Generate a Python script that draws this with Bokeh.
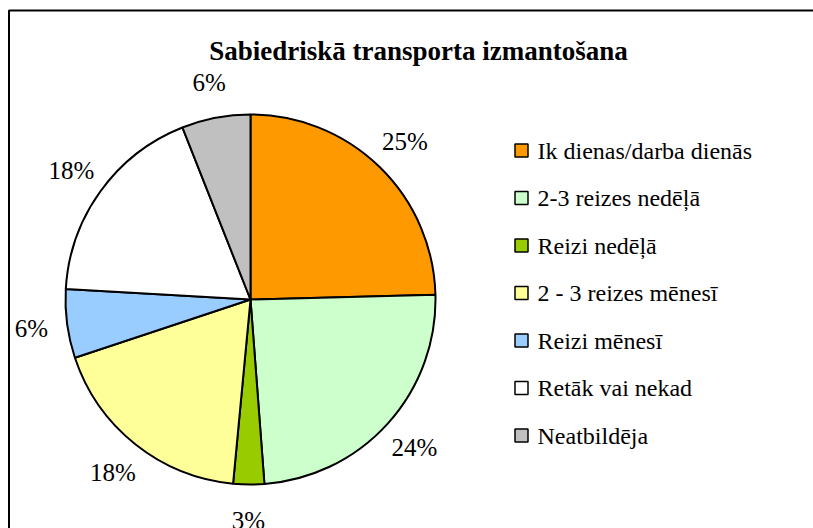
import math
from bokeh.plotting import figure
from bokeh.models import ColumnDataSource, Range1d
from bokeh.core.properties import value
from bokeh.embed import file_html
from bokeh.resources import INLINE

title = "Sabiedriskā transporta izmantošana"
categories = ["Ik dienas/darba dienās", "2-3 reizes nedēļā", "Reizi nedēļā",
              "2 - 3 reizes mēnesī", "Reizi mēnesī", "Retāk vai nekad", "Neatbildēja"]
shares = [24.6, 24.2, 2.7, 18.4, 6.0, 18.1, 6.0]
colors = ["#FF9900", "#CCFFCC", "#99CC00", "#FFFF99", "#99CCFF", "#FFFFFF", "#C0C0C0"]

W, H = 813, 528
FONT = "'Liberation Serif', 'Times New Roman', serif"

p = figure(width=W, height=H, output_backend="svg", toolbar_location=None,
           x_range=Range1d(0, W), y_range=Range1d(0, H), min_border=0)
p.axis.visible = False
p.grid.visible = False
p.outline_line_color = None
p.background_fill_color = "white"
p.border_fill_color = "white"

def py(yp):  # picture pixel y -> data y
    return H - yp

def px(xp):
    return xp

# outer frame (right/bottom run off the picture)
p.quad(left=[px(8.5)], right=[W + 20], top=[py(10)], bottom=[-20],
       fill_color=None, line_color="black", line_width=2)

# pie
cx, cy, R = px(250), py(299), 185
total = sum(shares)
starts, ends, mids = [], [], []
acc = 0.0
for s in shares:
    a0 = acc / total * 2 * math.pi
    acc += s
    a1 = acc / total * 2 * math.pi
    starts.append(math.pi / 2 - a0)
    ends.append(math.pi / 2 - a1)
    mids.append(math.pi / 2 - (a0 + a1) / 2)

src = ColumnDataSource(dict(start=starts, end=ends, color=colors))
p.wedge(x=cx, y=cy, radius=R, start_angle="start", end_angle="end",
        direction="clock", fill_color="color", line_color="black", line_width=2,
        source=src)

labels = [f"{round(s)}%" for s in shares]
rl = R + 36
lx = [cx + rl * math.cos(m) for m in mids]
ly = [cy + rl * math.sin(m) for m in mids]
p.text(x=lx, y=ly, text=labels, text_font=value(FONT), text_font_size="25px",
       text_align="center", text_baseline="middle", text_color="black")

# title
p.text(x=[px(418)], y=[py(50)], text=[title], text_font=value(FONT),
       text_font_size="27px", text_font_style="bold", text_align="center",
       text_baseline="middle", text_color="black")

# legend
ys = [py(150 + i * 47.5) for i in range(len(categories))]
p.rect(x=[px(521)] * len(categories), y=ys, width=13, height=13,
       fill_color=colors, line_color="black", line_width=1.5)
p.text(x=[px(537)] * len(categories), y=ys, text=categories, text_font=value(FONT),
       text_font_size="24px", text_align="left", text_baseline="middle",
       text_color="black")

open("out.html", "w").write(file_html(p, INLINE))
